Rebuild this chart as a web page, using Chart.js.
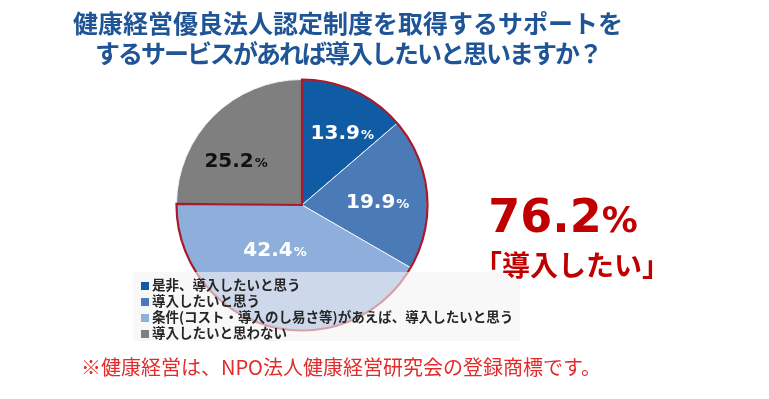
<!DOCTYPE html>
<html lang="ja">
<head>
<meta charset="utf-8">
<script src="https://cdn.jsdelivr.net/npm/chart.js@4"></script>
<style>
  body { margin: 0; background: #fff; }
  #wrap { position: relative; width: 769px; height: 399px; overflow: hidden; font-family: "Noto Sans CJK JP", sans-serif; }
  #wrap canvas { position: absolute; left: 0; top: 0; }
  .title { position: absolute; left: 60px; width: 576px; top: 7px; text-align: center; color: #1f5596;
           font-weight: 700; font-size: 25px; line-height: 30px; white-space: nowrap; }
  .title .l2 { letter-spacing: -2px; }
  .legend { position: absolute; left: 133px; top: 272px; width: 387px; height: 69px; background: rgba(243,243,243,0.62);
            box-sizing: border-box; padding-top: 4px; }
  .legend div { height: 16px; line-height: 16px; font-size: 13.5px; font-weight: 700; color: #262626; white-space: nowrap; }
  .legend span { display: inline-block; width: 8px; height: 8px; margin: 0 3px 0 8px; vertical-align: 0px; }
  .big { position: absolute; left: 463px; width: 200px; top: 190px; text-align: center; color: #c00000;
         font-family: "DejaVu Sans", sans-serif; font-weight: 700; font-size: 46px; line-height: 52px; }
  .big small { font-size: 36px; }
  .want { position: absolute; left: 472px; width: 200px; top: 246px; text-align: center; color: #c00000;
          font-weight: 700; font-size: 28px; line-height: 36px; }
  .note { position: absolute; left: 81px; top: 354px; color: #e32b2b; font-size: 20px; line-height: 26px; white-space: nowrap; }
</style>
</head>
<body>
<div id="wrap">
  <canvas id="myChart"></canvas>
  <div class="title">健康経営優良法人認定制度を取得するサポートを<br><span class="l2">するサービスがあれば導入したいと思いますか？</span></div>
  <div class="legend" id="legend"></div>
  <div class="big" id="big"></div>
  <div class="want">「導入したい」</div>
  <div class="note">※健康経営は、NPO法人健康経営研究会の登録商標です。</div>
</div>
<script>
// 回答の区分
const labels = [
  '是非、導入したいと思う',
  '導入したいと思う',
  '条件(コスト・導入のし易さ等)があえば、導入したいと思う',
  '導入したいと思わない'
]
// 割合 (%)
const values = [13.9, 19.9, 42.4, 25.2]
// 「導入したい」に含まれる区分
const wantGroup = [0, 1, 2]

const colors = ['#0f5ca4', '#4a7bb7', '#8eafdc', '#7f7f7f']
const labelColors = ['#ffffff', '#ffffff', '#ffffff', '#111111']
// ラベル位置: [角度のずれ(度), 半径の割合]
const labelPlace = [[4, 0.66], [2, 0.6], [17, 0.41], [-11, 0.64]]

// 凡例 (HTML)
const legendEl = document.getElementById('legend')
labels.forEach((txt, i) => {
  const row = document.createElement('div')
  const sq = document.createElement('span')
  sq.style.background = colors[i]
  row.appendChild(sq)
  row.appendChild(document.createTextNode(txt))
  legendEl.appendChild(row)
})

// 合計
const total = wantGroup.reduce((s, i) => s + values[i], 0)
document.getElementById('big').innerHTML = total.toFixed(1) + '<small>%</small>'

// 赤い外枠
const groupOutline = {
  id: 'groupOutline',
  afterDatasetsDraw(chart) {
    const arcs = chart.getDatasetMeta(0).data
    const first = arcs[wantGroup[0]]
    const last = arcs[wantGroup[wantGroup.length - 1]]
    const ctx = chart.ctx
    ctx.save()
    ctx.beginPath()
    ctx.moveTo(first.x, first.y)
    ctx.arc(first.x, first.y, first.outerRadius, first.startAngle, last.endAngle)
    ctx.closePath()
    ctx.strokeStyle = '#a8192b'
    ctx.lineWidth = 2.2
    ctx.lineJoin = 'miter'
    ctx.stroke()
    ctx.restore()
  }
}

// 割合ラベル
const pctLabels = {
  id: 'pctLabels',
  afterDraw(chart) {
    const arcs = chart.getDatasetMeta(0).data
    const ctx = chart.ctx
    ctx.save()
    ctx.textBaseline = 'alphabetic'
    arcs.forEach((arc, i) => {
      const mid = (arc.startAngle + arc.endAngle) / 2 + labelPlace[i][0] * Math.PI / 180
      const r = arc.outerRadius * labelPlace[i][1]
      const cx = arc.x + Math.cos(mid) * r
      const cy = arc.y + Math.sin(mid) * r
      const num = values[i].toFixed(1)
      ctx.font = 'bold 20px "DejaVu Sans"'
      const w1 = ctx.measureText(num).width
      ctx.font = 'bold 13px "DejaVu Sans"'
      const w2 = ctx.measureText('%').width
      const x0 = cx - (w1 + w2) / 2
      ctx.fillStyle = labelColors[i]
      ctx.font = 'bold 20px "DejaVu Sans"'
      ctx.fillText(num, x0, cy + 7)
      ctx.font = 'bold 13px "DejaVu Sans"'
      ctx.fillText('%', x0 + w1 + 1, cy + 7)
    })
    ctx.restore()
  }
}

const ctx = document.getElementById('myChart').getContext('2d')

new Chart(ctx, {
  type: 'pie',
  data: {
    labels: labels,
    datasets: [
      {
        data: values,
        backgroundColor: colors,
        borderColor: '#eef3fa',
        borderWidth: 1
      }
    ]
  },
  options: {
    responsive: true,
    maintainAspectRatio: false,
    animation: false,
    layout: { padding: { left: 176, right: 341, top: 79, bottom: 68 } },
    plugins: {
      legend: { display: false },
      tooltip: { enabled: false }
    }
  },
  plugins: [groupOutline, pctLabels]
})
</script>
</body>
</html>
